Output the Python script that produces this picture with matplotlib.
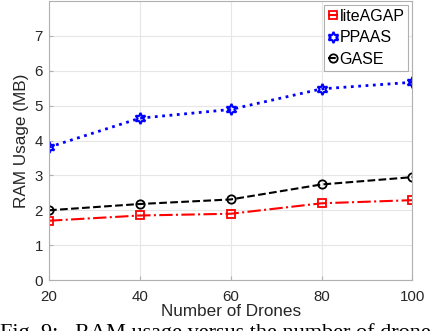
import matplotlib.pyplot as plt
import numpy as np

plt.rcParams['font.family'] = ['Liberation Sans', 'DejaVu Sans']

# number of drones
drones = [20, 40, 60, 80, 100]

# RAM usage (MB)
ram_liteagap = [1.70, 1.85, 1.90, 2.20, 2.29]
ram_ppaas = [3.81, 4.64, 4.89, 5.48, 5.67]
ram_gase = [2.00, 2.18, 2.31, 2.74, 2.95]

series_names = ["liteAGAP", "PPAAS", "GASE"]
y_ticks = [0, 1, 2, 3, 4, 5, 6, 7]
x_ticks = [20, 40, 60, 80, 100]

fig = plt.figure(figsize=(4.30, 3.31), dpi=100)
ax = fig.add_axes([0.114, 0.154, 0.845, 0.843])

hexagram = (6, 1, 0)  # six pointed star, like matlab 'h'

ax.plot(drones, ram_liteagap, color="red", linestyle="-.", linewidth=1.5,
        marker="s", markersize=5.5, markerfacecolor="none", markeredgewidth=1.3,
        label=series_names[0])
ax.plot(drones, ram_ppaas, color="blue", linestyle=":", linewidth=2.0,
        marker=hexagram, markersize=8, markerfacecolor="none", markeredgewidth=1.5,
        label=series_names[1])
ax.plot(drones, ram_gase, color="black", linestyle="--", linewidth=1.5,
        marker="o", markersize=6, markerfacecolor="none", markeredgewidth=1.3,
        label=series_names[2])

ax.set_xlim(20, 100)
ax.set_ylim(0, 8)
ax.set_xticks(x_ticks)
ax.set_yticks(y_ticks)
ax.grid(True, color="#e6e6e6", linewidth=0.8)
ax.set_axisbelow(True)
ax.tick_params(direction="in", length=3, colors="#b0b0b0", labelcolor="#262626",
               labelsize=10.8)
ax.tick_params(axis="x", pad=7)
ax.tick_params(axis="y", pad=4.5)
for s in ax.spines.values():
    s.set_color("#b0b0b0")
    s.set_linewidth(0.8)

ax.set_xlabel("Number of Drones", fontsize=12.3, color="#262626", labelpad=0)
ax.set_ylabel("RAM Usage (MB)", fontsize=12.3, color="#262626", labelpad=4)

leg = ax.legend(loc="upper right", fontsize=11.5, handlelength=0.6,
                handletextpad=0.1, borderpad=0.25, labelspacing=0.4,
                fancybox=False, framealpha=1, borderaxespad=0.25)
leg.get_frame().set_edgecolor("#b0b0b0")
leg.get_frame().set_linewidth(0.8)

# figure caption, cut off at the bottom edge as in the source
fig.text(0.0, 0.025, "Fig. 9:   RAM usage versus the number of drones",
         fontsize=16, family="Liberation Serif", va="top", ha="left")

fig.savefig("out.png", dpi=100)
